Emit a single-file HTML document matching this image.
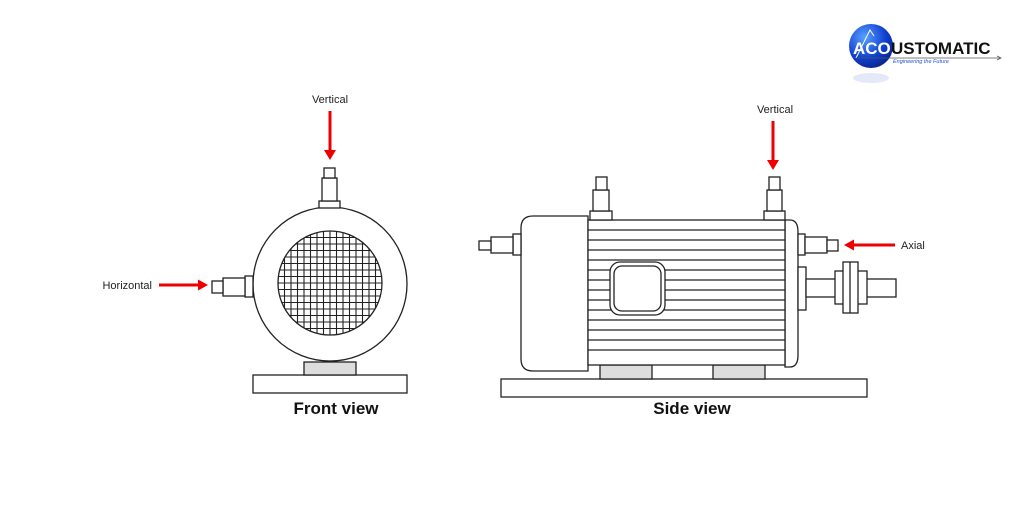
<!DOCTYPE html>
<html><head><meta charset="utf-8"><style>
html,body{margin:0;padding:0;background:#fff;}
svg{display:block}
text{font-family:"Liberation Sans",sans-serif}
</style></head><body>
<svg width="1024" height="512" viewBox="0 0 1024 512" xmlns="http://www.w3.org/2000/svg">
<defs>
<clipPath id="gc"><circle cx="330" cy="283" r="52"/></clipPath>
<radialGradient id="lg" cx="0.35" cy="0.3" r="0.8">
<stop offset="0" stop-color="#5aa0ff"/><stop offset="0.6" stop-color="#1040d0"/><stop offset="1" stop-color="#0a1f80"/>
</radialGradient>
</defs>
<g fill="none" stroke="#222" stroke-width="1.3">
<!-- FRONT VIEW -->
<rect x="253" y="375" width="154" height="18" fill="#fff"/>
<rect x="304" y="362" width="52" height="13" fill="#ddd"/>
<circle cx="330" cy="284" r="77" fill="#fff"/>
<g clip-path="url(#gc)" stroke-width="1.1">
<path d="M278 225V345M284.5 225V345M291 225V345M297.5 225V345M304 225V345M310.5 225V345M317 225V345M323.5 225V345M330 225V345M336.5 225V345M343 225V345M349.5 225V345M356 225V345M362.5 225V345M369 225V345M375.5 225V345M382 225V345"/>
<path d="M270 231H390M270 237.5H390M270 244H390M270 250.5H390M270 257H390M270 263.5H390M270 270H390M270 276.5H390M270 283H390M270 289.5H390M270 296H390M270 302.5H390M270 309H390M270 315.5H390M270 322H390M270 328.5H390"/>
</g>
<circle cx="330" cy="283" r="52"/>
<rect x="319" y="201" width="21" height="7" fill="#fff"/>
<rect x="322" y="178" width="15" height="23" fill="#fff"/>
<rect x="324" y="168" width="11" height="10" fill="#fff"/>
<rect x="245" y="276" width="8" height="21" fill="#fff"/>
<rect x="223" y="278" width="22" height="18" fill="#fff"/>
<rect x="212" y="281" width="11" height="12" fill="#fff"/>
<!-- SIDE VIEW -->
<rect x="501" y="379" width="366" height="18" fill="#fff"/>
<rect x="600" y="365" width="52" height="14" fill="#ddd"/>
<rect x="713" y="365" width="52" height="14" fill="#ddd"/>
<path d="M588 216H533Q521 216 521 228V359Q521 371 533 371H588Z" fill="#fff"/>
<path d="M785 220H790Q798 220 798 232V355Q798 367 790 367H785Z" fill="#fff"/>
<rect x="588" y="220" width="197" height="145" fill="#fff"/>
<path d="M588 230H785M588 240H785M588 250H785M588 260H785M588 270H785M588 280H785M588 290H785M588 300H785M588 310H785M588 320H785M588 330H785M588 340H785M588 350H785"/>
<rect x="610" y="262" width="55" height="53" rx="10" fill="#fff"/>
<rect x="614" y="266" width="47" height="45" rx="8" fill="#fff"/>
<rect x="590" y="211" width="22" height="9" fill="#fff"/>
<rect x="593" y="190" width="16" height="21" fill="#fff"/>
<rect x="596" y="177" width="11" height="13" fill="#fff"/>
<rect x="764" y="211" width="21" height="9" fill="#fff"/>
<rect x="767" y="190" width="15" height="21" fill="#fff"/>
<rect x="769" y="177" width="11" height="13" fill="#fff"/>
<rect x="513" y="234" width="8" height="21" fill="#fff"/>
<rect x="491" y="237" width="22" height="16" fill="#fff"/>
<rect x="479" y="241" width="12" height="9" fill="#fff"/>
<rect x="798" y="234" width="7" height="21" fill="#fff"/>
<rect x="805" y="237" width="22" height="16" fill="#fff"/>
<rect x="827" y="240" width="11" height="11" fill="#fff"/>
<rect x="798" y="267" width="8" height="43" fill="#fff"/>
<rect x="806" y="279" width="90" height="18" fill="#fff"/>
<rect x="835" y="271" width="32" height="33" fill="#fff"/>
<rect x="843" y="262" width="15" height="51" fill="#fff"/>
<path d="M850 262V313"/>
</g>
<!-- arrows -->
<g fill="#e00" stroke="none">
<rect x="328.5" y="111" width="3" height="40"/><path d="M324 150H336L330 160Z"/>
<rect x="771.5" y="121" width="3" height="40"/><path d="M767 160H779L773 170Z"/>
<rect x="159" y="283.5" width="40" height="3"/><path d="M198 279.5V290.5L208 285Z"/>
<rect x="853" y="243.5" width="42" height="3"/><path d="M854 239.5V250.5L844 245Z"/>
</g>
<g font-size="11" fill="#222">
<text x="330" y="103" text-anchor="middle">Vertical</text>
<text x="775" y="113" text-anchor="middle">Vertical</text>
<text x="152" y="289" text-anchor="end">Horizontal</text>
<text x="901" y="249">Axial</text>
</g>
<g font-size="17" font-weight="bold" fill="#111" text-anchor="middle">
<text x="336" y="414">Front view</text>
<text x="692" y="414">Side view</text>
</g>
<!-- logo -->
<circle cx="871" cy="46" r="22" fill="url(#lg)"/>
<ellipse cx="871" cy="78" rx="18" ry="5" fill="#c8d4f0" opacity="0.5"/>
<path d="M856 58L870 30L874 36" stroke="#fff" stroke-width="1" fill="none"/>
<path d="M856 58H1000" stroke="#555" stroke-width="0.8"/>
<path d="M997 56L1001 58L997 60" stroke="#555" stroke-width="0.8" fill="none"/>
<text x="853" y="54" font-size="17" font-weight="bold" fill="#fff">ACO</text>
<text x="891" y="54" font-size="17" font-weight="bold" fill="#111">USTOMATIC</text>
<text x="893" y="63" font-size="5.5" font-style="italic" fill="#2255dd">Engineering the Future</text>
</svg>
</body></html>
